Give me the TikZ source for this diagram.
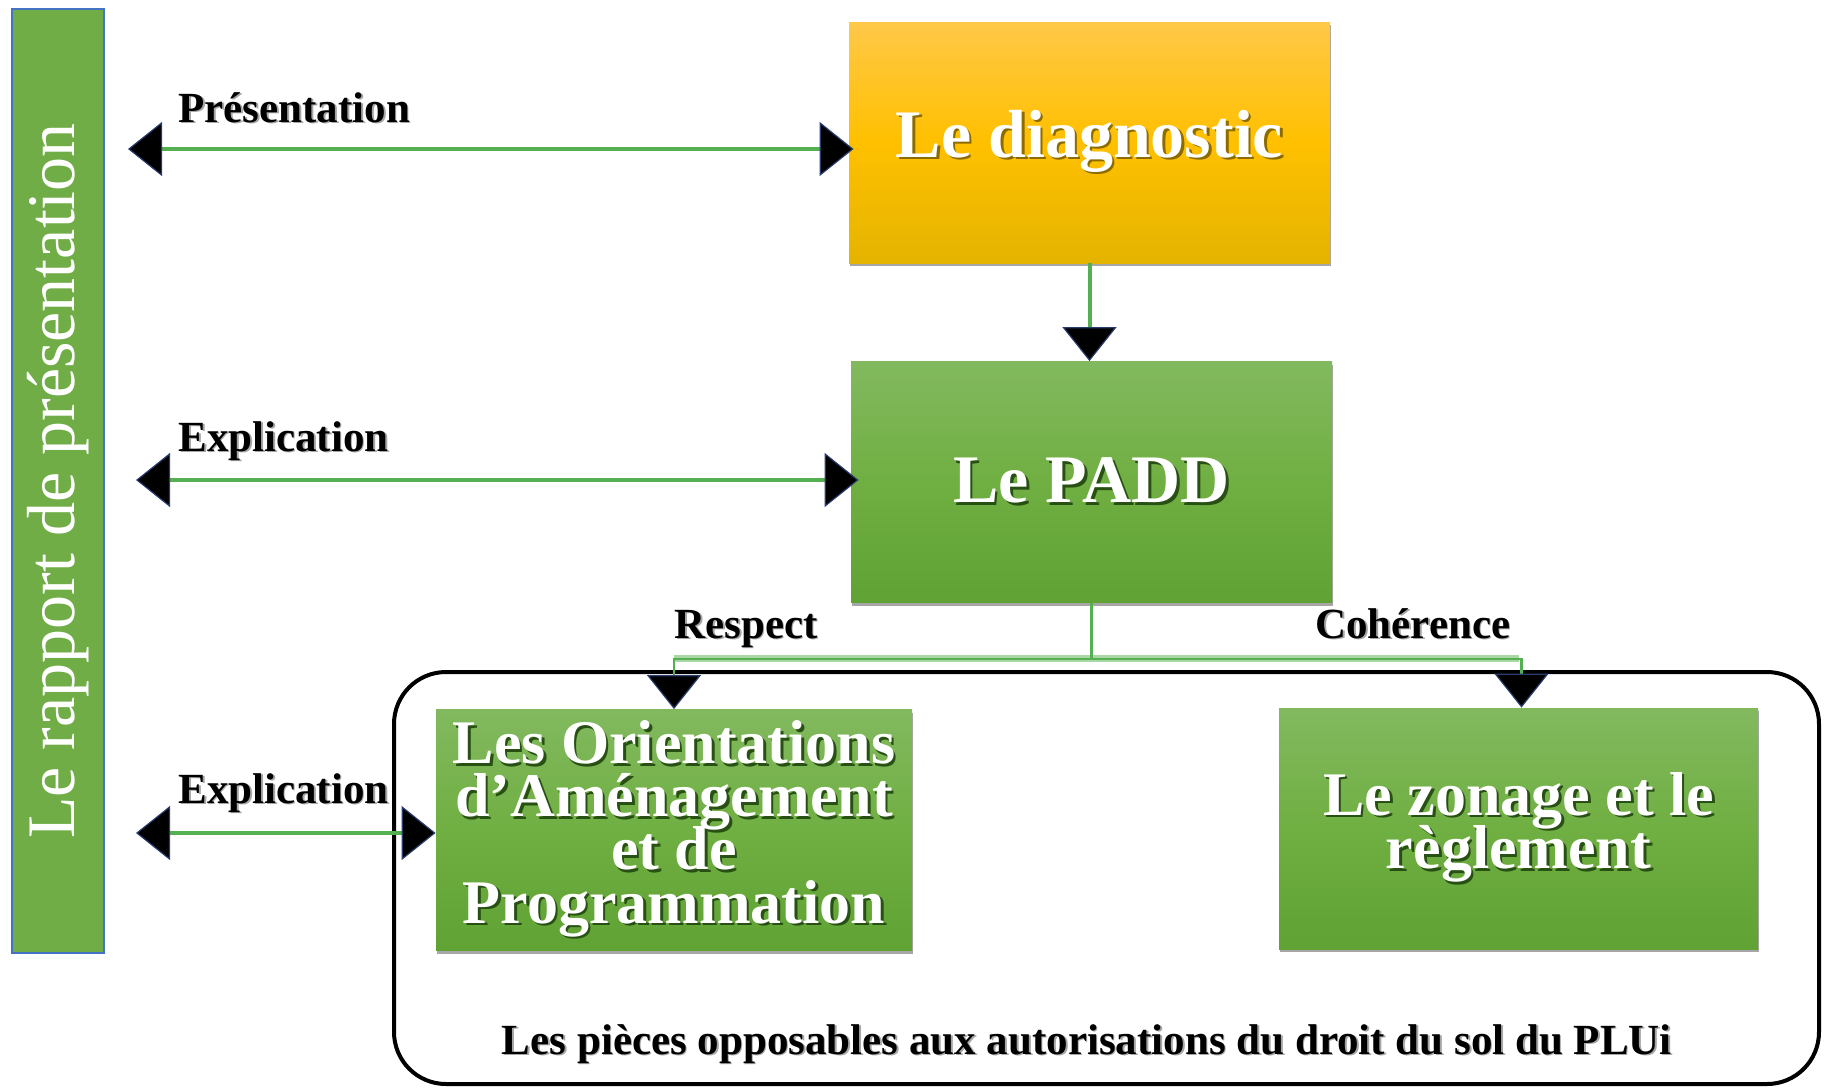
\documentclass[tikz,border=0pt]{standalone}
\usepackage{fontspec}
\setmainfont{Liberation Serif}
\usetikzlibrary{arrows.meta,shadows,calc}
\normallineskiplimit=-100pt
\lineskiplimit=-100pt
\definecolor{gline}{RGB}{84,176,80}
\definecolor{gband}{RGB}{170,215,165}
\definecolor{bargreen}{RGB}{112,173,71}
\definecolor{barblue}{RGB}{68,114,196}
\definecolor{ytop}{RGB}{255,200,72}
\definecolor{ymid}{RGB}{255,192,0}
\definecolor{ybot}{RGB}{228,180,0}
\definecolor{gtop}{RGB}{130,185,95}
\definecolor{gmid}{RGB}{112,175,66}
\definecolor{gbot}{RGB}{96,162,52}
\definecolor{tipblue}{RGB}{40,60,110}
\definecolor{yshadow}{RGB}{140,108,0}
\definecolor{gshadow}{RGB}{40,80,20}
\newcommand\shtx[2]{\leavevmode\rlap{\hspace{1.3pt}\raisebox{-1.3pt}{\textcolor{#2}{#1}}}#1}
\newcommand\lbtx[1]{\leavevmode\rlap{\hspace{0.8pt}\raisebox{-0.8pt}{\textcolor{black!35}{#1}}}#1}
\begin{document}
\begin{tikzpicture}[x=0.5pt,y=-0.5pt,
  tri/.tip={Triangle[length=17pt,width=27pt,fill=black,color=tipblue,line width=0.6pt]},
  gconn/.style={draw=gline,line width=2pt},
  tconn/.style={draw=gline,line width=1.3pt},
  tband/.style={draw=gband,line width=3.5pt},
  lbl/.style={font=\fontsize{21.5}{24}\selectfont\bfseries,inner sep=0pt,anchor=base west},
  box/.style={minimum width=240.5pt,minimum height=120.5pt,inner sep=0pt,text=white,align=center,
    drop shadow={shadow xshift=0.6pt,shadow yshift=-1.6pt,fill=black,opacity=0.35}},
  ybox/.style={box,top color=ytop,bottom color=ybot,middle color=ymid,
    font=\fontsize{34}{38}\selectfont\bfseries},
  gbox/.style={box,top color=gtop,bottom color=gbot,middle color=gmid,
    font=\fontsize{31}{26.6}\selectfont\bfseries},
  padbox/.style={box,top color=gtop,bottom color=gbot,middle color=gmid,
    font=\fontsize{34}{38}\selectfont\bfseries},
  barbox/.style={draw=barblue,line width=1pt,fill=bargreen,minimum width=472pt,minimum height=46pt,
    inner sep=0pt,text=white,rotate=90,font=\fontsize{34}{38}\selectfont},
  grpbox/.style={draw=black,line width=2pt,rounded corners=26pt,minimum width=712.5pt,minimum height=206pt,inner sep=0pt}
]
\useasboundingbox (0,0) rectangle (1826,1089);

% left bar
\node[barbox] (rap) at (58,481) {Le rapport de présentation};

% group frame
\node[grpbox] (grp) at (1106.5,878) {};
\node[font=\fontsize{21.5}{24}\selectfont\bfseries,inner sep=0pt,anchor=base] (pieces) at (1087,1054)
  {\lbtx{Les pièces opposables aux autorisations du droit du sol du PLUi}};

% boxes
\node[ybox] (diag) at (1089.5,142.5) {\shtx{Le diagnostic}{yshadow}};
\node[padbox] (padd) at (1091.5,482) {\shtx{Le PADD}{gshadow}};
\node[gbox,minimum width=238pt] (oap) at (674,830)
  {\shtx{Les Orientations}{gshadow}\\ \shtx{d’Aménagement}{gshadow}\\ \shtx{et de}{gshadow}\\ \shtx{Programmation}{gshadow}};
\node[gbox,minimum width=239.5pt] (zon) at (1518.5,828.5)
  {\shtx{Le zonage et le}{gshadow}\\ \shtx{règlement}{gshadow}};

% labels
\node[lbl] (lpres) at (178,122) {\lbtx{Présentation}};
\node[lbl] (lexp1) at (178,451) {\lbtx{Explication}};
\node[lbl] (lexp2) at (178,803) {\lbtx{Explication}};
\node[lbl] (lresp) at (674,638) {\lbtx{Respect}};
\node[lbl] (lcoh) at (1315,638) {\lbtx{Cohérence}};

% horizontal double arrows
\coordinate (p1) at (128,149);
\draw[gconn,{tri}-{tri}] (p1) -- ($(p1 -| diag.west)+(5,0)$);
\coordinate (e1) at (136,480);
\draw[gconn,{tri}-{tri}] (e1) -- ($(e1 -| padd.west)+(8,0)$);
\coordinate (e2) at (136,833);
\draw[gconn,{tri}-{tri}] (e2) -- (e2 -| oap.west);

% diagnostic -> PADD
\draw[gconn,-{tri}] (diag.south) -- (diag.south |- padd.north);

% PADD -> OAP / zonage
\coordinate (j) at ($(padd.south)+(0,56)$);
\draw[tband] (j -| oap.north) -- (j -| zon.north);
\draw[tconn] (padd.south) -- (j);
\draw[tconn,-{tri}] (j) -| (oap.north);
\draw[tconn,-{tri}] (j) -| ($(zon.north)+(3,0)$);
\end{tikzpicture}
\end{document}
